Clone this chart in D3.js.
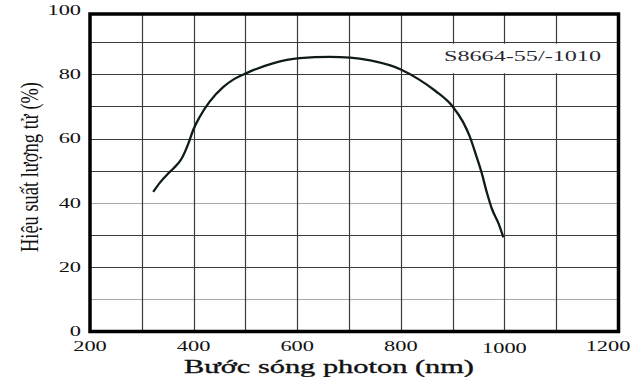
<!DOCTYPE html>
<html>
<head>
<meta charset="utf-8">
<script src="https://cdn.jsdelivr.net/npm/d3@7"></script>
<style>
  html, body { margin: 0; padding: 0; background: #fff; }
  svg { display: block; }
  text { font-family: "Liberation Serif", "Times New Roman", serif; fill: #111; }
</style>
</head>
<body>
<svg id="chart" width="642" height="377"></svg>
<script>
// ---- data ----
const wavelengths = [322, 335, 350, 361, 377, 390, 399, 412, 431, 457, 478, 501, 553, 605, 663, 702, 741, 800, 834, 867, 900, 920, 933, 946, 956, 966, 976, 989, 998];
const efficiency  = [43.4, 46.3, 49.0, 50.7, 53.8, 58.5, 62.6, 66.8, 71.5, 76.0, 78.5, 80.3, 83.4, 85.0, 85.4, 85.2, 84.3, 81.5, 78.5, 74.8, 70.0, 65.2, 60.7, 54.5, 49.4, 43.3, 38.1, 33.5, 29.3];
const xTicks = [200, 400, 600, 800, 1000, 1200];
const yTicks = [0, 20, 40, 60, 80, 100];
const xGrid = [300, 400, 500, 600, 700, 800, 900, 1000, 1100];
const yGrid = [10, 20, 30, 40, 50, 60, 70, 80, 90];
const lightGrid = [10, 40];
const seriesLabel = "S8664-55/-1010";
const xTitle = "Bước sóng photon (nm)";
const yTitle = "Hiệu suất lượng tử (%)";

// ---- layout ----
const svg = d3.select("#chart");
const x = d3.scaleLinear().domain([200, 1200]).range([90, 608]);
const y = d3.scaleLinear().domain([0, 100]).range([331.5, 10]);
const framePad = { top: 4, right: 10.5 };
const fx0 = x(200), fx1 = x(1200) + framePad.right;
const fy0 = y(100) + framePad.top, fy1 = y(0);
const stretch = 1.6;

// gridlines
svg.append("g").selectAll("line").data(yGrid).join("line")
  .attr("x1", fx0).attr("x2", fx1)
  .attr("y1", d => Math.round(y(d)) + 0.5).attr("y2", d => Math.round(y(d)) + 0.5)
  .attr("stroke", d => lightGrid.includes(d) ? "#a8a8a8" : "#3a3a3a")
  .attr("stroke-width", 1.2);

svg.append("g").selectAll("line").data(xGrid).join("line")
  .attr("x1", d => Math.round(x(d)) + 0.5).attr("x2", d => Math.round(x(d)) + 0.5)
  .attr("y1", fy0).attr("y2", fy1)
  .attr("stroke", "#3a3a3a").attr("stroke-width", 1.2);

// label box (covers vertical gridlines in its cell row)
svg.append("rect")
  .attr("x", x(800) + 2).attr("y", y(90) + 1.5)
  .attr("width", fx1 - x(800) - 3).attr("height", y(80) - y(90) - 2.5)
  .attr("fill", "#fff");

svg.append("text")
  .attr("x", 444).attr("y", y(90) + 19)
  .attr("font-size", 15)
  .attr("textLength", 157).attr("lengthAdjust", "spacingAndGlyphs")
  .style("fill", "#2a2a33")
  .text(seriesLabel);

// curve
const line = d3.line()
  .x((d, i) => x(wavelengths[i]))
  .y(d => y(d))
  .curve(d3.curveMonotoneX);
svg.append("path")
  .datum(efficiency)
  .attr("d", line)
  .attr("fill", "none")
  .attr("stroke", "#0f1c13")
  .attr("stroke-width", 2.3)
  .attr("stroke-linejoin", "round");

// frame
svg.append("rect")
  .attr("x", fx0).attr("y", fy0)
  .attr("width", fx1 - fx0).attr("height", fy1 - fy0)
  .attr("fill", "none").attr("stroke", "#000").attr("stroke-width", 3.5);

// y tick labels
svg.append("g").selectAll("text").data(yTicks).join("text")
  .attr("transform", d => `translate(81,${y(d) + 4.8}) scale(${stretch},1)`)
  .attr("text-anchor", "end")
  .attr("font-size", 14)
  .text(d => d);

// x tick labels
svg.append("g").selectAll("text").data(xTicks).join("text")
  .attr("transform", d => `translate(${x(d)},${d === 1000 ? 352.5 : 351}) scale(${stretch},1)`)
  .attr("text-anchor", "middle")
  .attr("font-size", 14)
  .text(d => d);

// axis titles
svg.append("text")
  .attr("x", 329).attr("y", 373)
  .attr("text-anchor", "middle")
  .attr("font-size", 19)
  .attr("textLength", 290).attr("lengthAdjust", "spacingAndGlyphs")
  .style("stroke", "#111").style("stroke-width", 0.35)
  .text(xTitle);

svg.append("text")
  .attr("transform", "translate(38,167) rotate(-90) scale(1,1.5)")
  .attr("text-anchor", "middle")
  .attr("font-size", 17)
  .attr("textLength", 170).attr("lengthAdjust", "spacingAndGlyphs")
  .text(yTitle);
</script>
</body>
</html>
